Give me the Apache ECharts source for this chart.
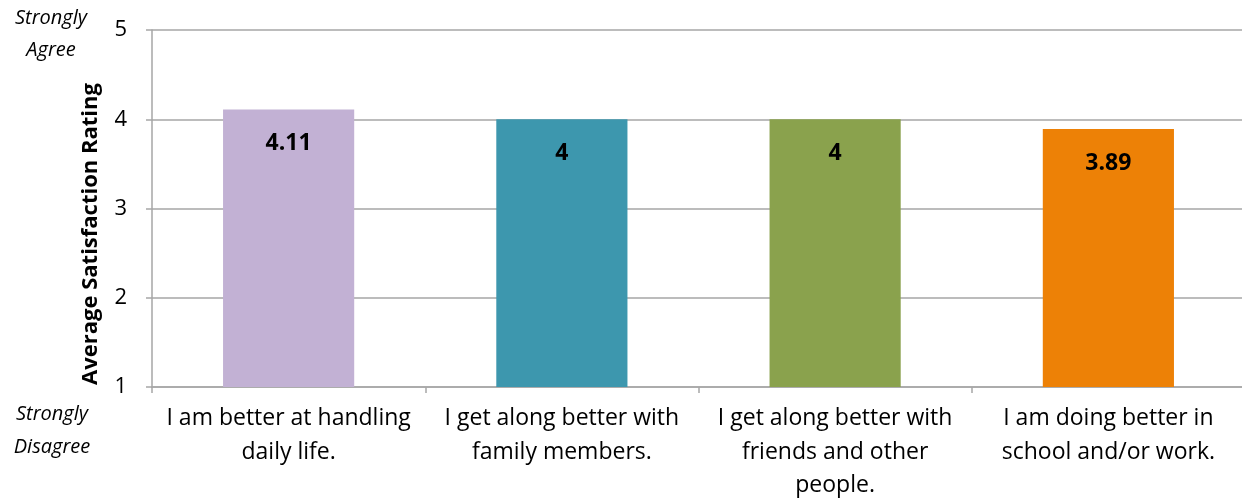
<!DOCTYPE html>
<html><head><meta charset="utf-8">
<script src="https://cdn.jsdelivr.net/npm/echarts@6/dist/echarts.min.js"></script>
<style>html,body{margin:0;padding:0;background:#fff}#c{width:1242px;height:502px}</style>
</head><body><div id="c"></div>
<script>
const categories = ["I am better at handling\ndaily life.", "I get along better with\nfamily members.", "I get along better with\nfriends and other\npeople.", "I am doing better in\nschool and/or work."];
const values = [4.11, 4, 4, 3.89];
const barColors = ["#c2b1d4", "#3d97ae", "#8aa24d", "#ed8106"];
const yTicks = { min: 1, max: 5, interval: 1 };
const yName = "Average Satisfaction Rating";
const topNote = "Strongly\nAgree";
const bottomNote = "Strongly\nDisagree";

const FONT = "Open Sans";
const chart = echarts.init(document.getElementById('c'));
chart.setOption({
  animation: false,
  grid: { left: 152, right: -3, top: 30, bottom: 115, containLabel: false, outerBoundsMode: 'none' },
  xAxis: {
    type: 'category', data: categories,
    axisLine: { lineStyle: { color: '#a6a6a6', width: 1.5 } },
    axisTick: { show: true, length: 6, lineStyle: { color: '#a6a6a6', width: 1.5 } },
    axisLabel: { color: '#000', fontFamily: FONT, fontSize: 23, lineHeight: 33.5, margin: 15, interval: 0 }
  },
  yAxis: {
    type: 'value', min: yTicks.min, max: yTicks.max, interval: yTicks.interval,
    axisLine: { show: true, lineStyle: { color: '#a6a6a6', width: 1.5 } },
    axisTick: { show: true, length: 6, lineStyle: { color: '#a6a6a6', width: 1.5 } },
    splitLine: { lineStyle: { color: '#a6a6a6', width: 1.5 } },
    axisLabel: { color: '#000', fontFamily: FONT, fontSize: 22, margin: 25 }
  },
  graphic: [
    { type: 'text', x: 91, y: 234, rotation: Math.PI / 2,
      style: { text: yName, fontFamily: FONT, fontWeight: 'bold', fontSize: 22, fill: '#000', align: 'center', verticalAlign: 'middle' } },
    { type: 'text', x: 51, y: 34,
      style: { text: topNote, fontFamily: FONT, fontStyle: 'italic', fontSize: 20, lineHeight: 32, fill: '#000', align: 'center', verticalAlign: 'middle' } },
    { type: 'text', x: 52, y: 431,
      style: { text: bottomNote, fontFamily: FONT, fontStyle: 'italic', fontSize: 20, lineHeight: 33, fill: '#000', align: 'center', verticalAlign: 'middle' } }
  ],
  series: [{
    type: 'bar', barWidth: '48%',
    data: values.map((v, i) => ({ value: v, itemStyle: { color: barColors[i] } })),
    label: { show: true, position: 'insideTop', distance: 23, color: '#000', fontFamily: FONT, fontWeight: 'bold', fontSize: 23 }
  }]
});
</script></body></html>
